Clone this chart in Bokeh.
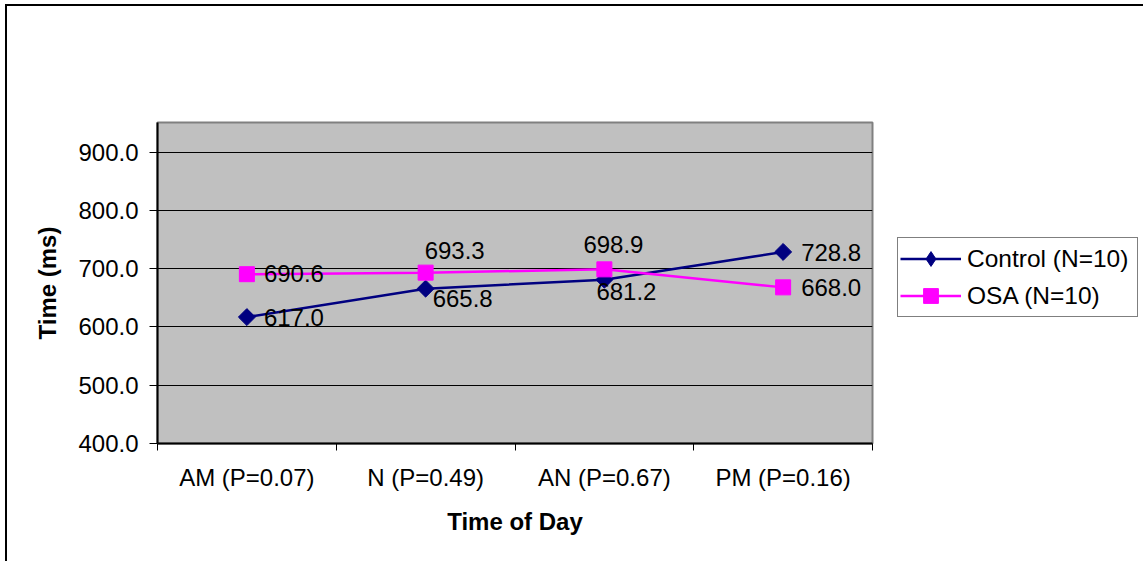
from bokeh.plotting import figure
from bokeh.models import Range1d, FixedTicker, NumeralTickFormatter, Legend, LegendItem
from bokeh.embed import file_html
from bokeh.resources import INLINE
from bokeh.core.properties import value

# ---- data ----
categories = ["AM (P=0.07)", "N (P=0.49)", "AN (P=0.67)", "PM (P=0.16)"]
control = [617.0, 665.8, 681.2, 728.8]
osa = [690.6, 693.3, 698.9, 668.0]
y_ticks = [400, 500, 600, 700, 800, 900]
grid_ticks = [500, 600, 700, 800, 900]

# ---- label placement (screen px, style only) ----
control_dx = [17, 7, -8, 18]
control_dy = [0, 10, 12, 1]
osa_dx = [17, -1, -21, 18]
osa_dy = [-1, -22, -25, 0]

FONT = "Liberation Sans"
NAVY = "#000080"
MAGENTA = "#FF00FF"

xs = [i + 0.5 for i in range(len(categories))]
bounds = list(range(len(categories) + 1))

p = figure(frame_width=715, frame_height=321,
           min_border_left=150, min_border_right=266,
           min_border_top=116, min_border_bottom=118,
           x_range=Range1d(0, len(categories)), y_range=Range1d(400, 951),
           output_backend="svg", toolbar_location=None,
           background_fill_color="#C0C0C0", border_fill_color="white")
p.styles = {"border-left": "2px solid black", "border-top": "2px solid black",
            "margin-left": "5px", "margin-top": "4px"}

p.outline_line_color = "#808080"
p.outline_line_width = 2

# x axis
p.xaxis.ticker = FixedTicker(ticks=xs, minor_ticks=bounds)
p.xaxis.major_label_overrides = {x: c for x, c in zip(xs, categories)}
p.xaxis.major_tick_out = 0
p.xaxis.major_tick_in = 0
p.xaxis.minor_tick_out = 7
p.xaxis.minor_tick_in = 0
p.xaxis.minor_tick_line_color = "black"
p.xaxis.axis_line_color = "black"
p.xaxis.axis_line_width = 2
p.xaxis.major_label_text_font = FONT
p.xaxis.major_label_text_font_size = "24px"
p.xaxis.major_label_text_color = "black"
p.xaxis.major_label_standoff = 13
p.xaxis.axis_label = "Time of Day"
p.xaxis.axis_label_text_font = FONT
p.xaxis.axis_label_text_font_size = "24px"
p.xaxis.axis_label_text_font_style = "bold"
p.xaxis.axis_label_text_color = "black"
p.xaxis.axis_label_standoff = 14

# y axis
p.yaxis.ticker = FixedTicker(ticks=y_ticks)
p.yaxis.formatter = NumeralTickFormatter(format="0.0")
p.yaxis.major_tick_out = 8
p.yaxis.major_tick_in = 0
p.yaxis.major_tick_line_color = "black"
p.yaxis.axis_line_color = "black"
p.yaxis.axis_line_width = 2
p.yaxis.major_label_text_font = FONT
p.yaxis.major_label_text_font_size = "24px"
p.yaxis.major_label_text_color = "black"
p.yaxis.major_label_standoff = 11
p.yaxis.axis_label = "Time (ms)"
p.yaxis.axis_label_text_font = FONT
p.yaxis.axis_label_text_font_size = "24px"
p.yaxis.axis_label_text_font_style = "bold"
p.yaxis.axis_label_text_color = "black"
p.yaxis.axis_label_standoff = 14

# grid
p.xgrid.visible = False
p.ygrid.ticker = FixedTicker(ticks=grid_ticks)
p.ygrid.grid_line_color = "black"
p.ygrid.grid_line_width = 1

# series
l1 = p.line(xs, control, line_color=NAVY, line_width=2.5)
s1 = p.scatter(xs, control, marker="square", angle=0.7854, size=12,
               fill_color=NAVY, line_color=NAVY)
l2 = p.line(xs, osa, line_color=MAGENTA, line_width=2.5)
s2 = p.scatter(xs, osa, marker="square", size=15,
               fill_color=MAGENTA, line_color=MAGENTA)

# legend-only diamond (placed outside the visible range)
s1_leg = p.scatter([-10], [0], marker="diamond", size=12,
                   fill_color=NAVY, line_color=NAVY)

# data labels
p.text(xs, control, text=[f"{v:.1f}" for v in control],
       x_offset=control_dx, y_offset=control_dy,
       text_font=value(FONT), text_font_size="24px", text_color="black",
       text_align="left", text_baseline="middle")
p.text(xs, osa, text=[f"{v:.1f}" for v in osa],
       x_offset=osa_dx, y_offset=osa_dy,
       text_font=value(FONT), text_font_size="24px", text_color="black",
       text_align="left", text_baseline="middle")

legend = Legend(items=[LegendItem(label="Control (N=10)", renderers=[l1, s1_leg]),
                       LegendItem(label="OSA (N=10)", renderers=[l2, s2])],
                location=(25, 126))
legend.border_line_color = "black"
legend.border_line_width = 1
legend.background_fill_color = "white"
legend.background_fill_alpha = 1
legend.label_text_font = FONT
legend.label_text_font_size = "24.5px"
legend.label_text_color = "black"
legend.glyph_width = 61
legend.glyph_height = 37
legend.label_height = 28
legend.label_width = 168
legend.label_standoff = 6
legend.spacing = 0
legend.padding = 2
legend.margin = 0
p.add_layout(legend, "right")

open("out.html", "w").write(file_html(p, INLINE))
